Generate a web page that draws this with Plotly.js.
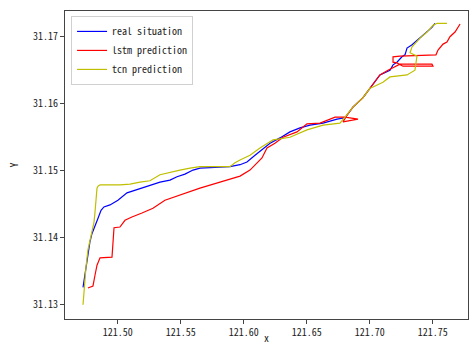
<!DOCTYPE html>
<html>
<head>
<meta charset="utf-8">
<script src="https://cdn.plot.ly/plotly-3.0.1.min.js"></script>
<style>html,body{margin:0;padding:0;background:#fff}#chart{width:469px;height:345px}</style>
</head>
<body>
<div id="chart"></div>
<script>
// real situation
const realX = [121.4725,121.4733,121.4748,121.4764,121.4780,121.4796,121.4820,121.4844,121.4868,121.4891,121.4939,121.5002,121.5074,121.5137,121.5201,121.5272,121.5336,121.5415,121.5471,121.5534,121.5598,121.5653,121.5891,121.5971,121.6026,121.6090,121.6145,121.6209,121.6288,121.6367,121.6447,121.6526,121.6630,121.6741,121.6804,121.6867,121.6947,121.7002,121.7081,121.7161,121.7185,121.7216,121.7256,121.7280,121.7296,121.7336,121.7399,121.7455,121.7494,121.7518];
const realY = [31.1326,31.1337,31.1355,31.1379,31.1394,31.1406,31.1419,31.1429,31.1441,31.1446,31.1449,31.1456,31.1467,31.1471,31.1474,31.1479,31.1483,31.1486,31.1491,31.1495,31.1501,31.1504,31.1506,31.1509,31.1513,31.1523,31.1531,31.1541,31.1549,31.1558,31.1564,31.1568,31.1571,31.1577,31.1579,31.1595,31.1609,31.1623,31.1643,31.1650,31.1658,31.1662,31.1670,31.1673,31.1683,31.1688,31.1698,31.1707,31.1714,31.1720];

// lstm prediction
const lstmX = [121.4764,121.4804,121.4820,121.4836,121.4860,121.4955,121.4971,121.5018,121.5058,121.5113,121.5193,121.5280,121.5375,121.5494,121.5653,121.5812,121.5971,121.6050,121.6113,121.6145,121.6185,121.6248,121.6312,121.6423,121.6502,121.6606,121.6725,121.6804,121.6907,121.6788,121.6820,121.6867,121.6947,121.7002,121.7081,121.7145,121.7200,121.7240,121.7494,121.7502,121.7264,121.7216,121.7185,121.7185,121.7240,121.7526,121.7542,121.7582,121.7613,121.7637,121.7677,121.7717];
const lstmY = [31.1325,31.1328,31.1344,31.1359,31.1370,31.1371,31.1415,31.1416,31.1426,31.1431,31.1437,31.1444,31.1456,31.1464,31.1474,31.1483,31.1492,31.1501,31.1512,31.1519,31.1534,31.1541,31.1550,31.1558,31.1570,31.1571,31.1580,31.1580,31.1577,31.1573,31.1583,31.1595,31.1609,31.1623,31.1643,31.1650,31.1655,31.1659,31.1659,31.1656,31.1656,31.1661,31.1662,31.1670,31.1671,31.1673,31.1680,31.1689,31.1692,31.1700,31.1707,31.1719];

// tcn prediction
const tcnX = [121.4725,121.4733,121.4740,121.4748,121.4764,121.4780,121.4796,121.4812,121.4820,121.4828,121.4836,121.4844,121.4860,121.5018,121.5098,121.5177,121.5256,121.5336,121.5415,121.5494,121.5574,121.5653,121.5891,121.5931,121.5971,121.6050,121.6129,121.6233,121.6367,121.6502,121.6630,121.6764,121.6804,121.6867,121.6947,121.7002,121.7026,121.7105,121.7161,121.7296,121.7359,121.7375,121.7320,121.7336,121.7399,121.7455,121.7502,121.7534,121.7613];
const tcnY = [31.1300,31.1322,31.1344,31.1355,31.1382,31.1397,31.1409,31.1423,31.1438,31.1456,31.1474,31.1477,31.1479,31.1479,31.1480,31.1483,31.1485,31.1494,31.1498,31.1501,31.1504,31.1506,31.1506,31.1512,31.1516,31.1523,31.1534,31.1546,31.1550,31.1561,31.1568,31.1571,31.1580,31.1595,31.1609,31.1623,31.1625,31.1632,31.1640,31.1643,31.1650,31.1671,31.1676,31.1685,31.1698,31.1707,31.1717,31.1720,31.1720];

const seriesNames = ['real situation', 'lstm prediction', 'tcn prediction'];
const xTicks = [121.50, 121.55, 121.60, 121.65, 121.70, 121.75];
const xTickText = ['121.50', '121.55', '121.60', '121.65', '121.70', '121.75'];
const yTicks = [31.13, 31.14, 31.15, 31.16, 31.17];
const yTickText = ['31.13', '31.14', '31.15', '31.16', '31.17'];

const FONT = '"Noto Sans Mono CJK SC", "Liberation Mono", "DejaVu Sans Mono", monospace';

const traces = [
  {x: realX, y: realY, name: seriesNames[0], mode: 'lines', line: {color: '#0000ff', width: 1.2}},
  {x: lstmX, y: lstmY, name: seriesNames[1], mode: 'lines', line: {color: '#ff0000', width: 1.2}},
  {x: tcnX, y: tcnY, name: seriesNames[2], mode: 'lines', line: {color: '#bfbf00', width: 1.2}}
];

const axisCommon = {
  showgrid: false, zeroline: false, showline: true, mirror: true,
  linecolor: '#444', linewidth: 1, ticks: 'outside', ticklen: 4, tickwidth: 1, tickcolor: '#444',
  tickfont: {family: FONT, size: 10, color: '#222'}
};

const layout = {
  width: 469, height: 345,
  margin: {l: 65, r: 1, t: 11, b: 26},
  paper_bgcolor: '#fff', plot_bgcolor: '#fff',
  showlegend: true,
  legend: {
    x: 0.015, y: 0.984, xanchor: 'left', yanchor: 'top',
    bgcolor: 'rgba(255,255,255,0.8)', bordercolor: '#d0d0d0', borderwidth: 1,
    font: {family: FONT, size: 10, color: '#222'},
    tracegroupgap: 0, itemwidth: 30
  },
  xaxis: Object.assign({}, axisCommon, {
    range: [121.4582, 121.7780],
    tickmode: 'array', tickvals: xTicks, ticktext: xTickText,
    title: {text: 'x', font: {family: FONT, size: 10, color: '#222'}, standoff: 5}
  }),
  yaxis: Object.assign({}, axisCommon, {
    range: [31.12787, 31.17384],
    tickmode: 'array', tickvals: yTicks, ticktext: yTickText,
    title: {text: 'Y', font: {family: FONT, size: 10, color: '#222'}, standoff: 12}
  })
};

Plotly.newPlot('chart', traces, layout, {displayModeBar: false, staticPlot: true});
</script>
</body>
</html>
